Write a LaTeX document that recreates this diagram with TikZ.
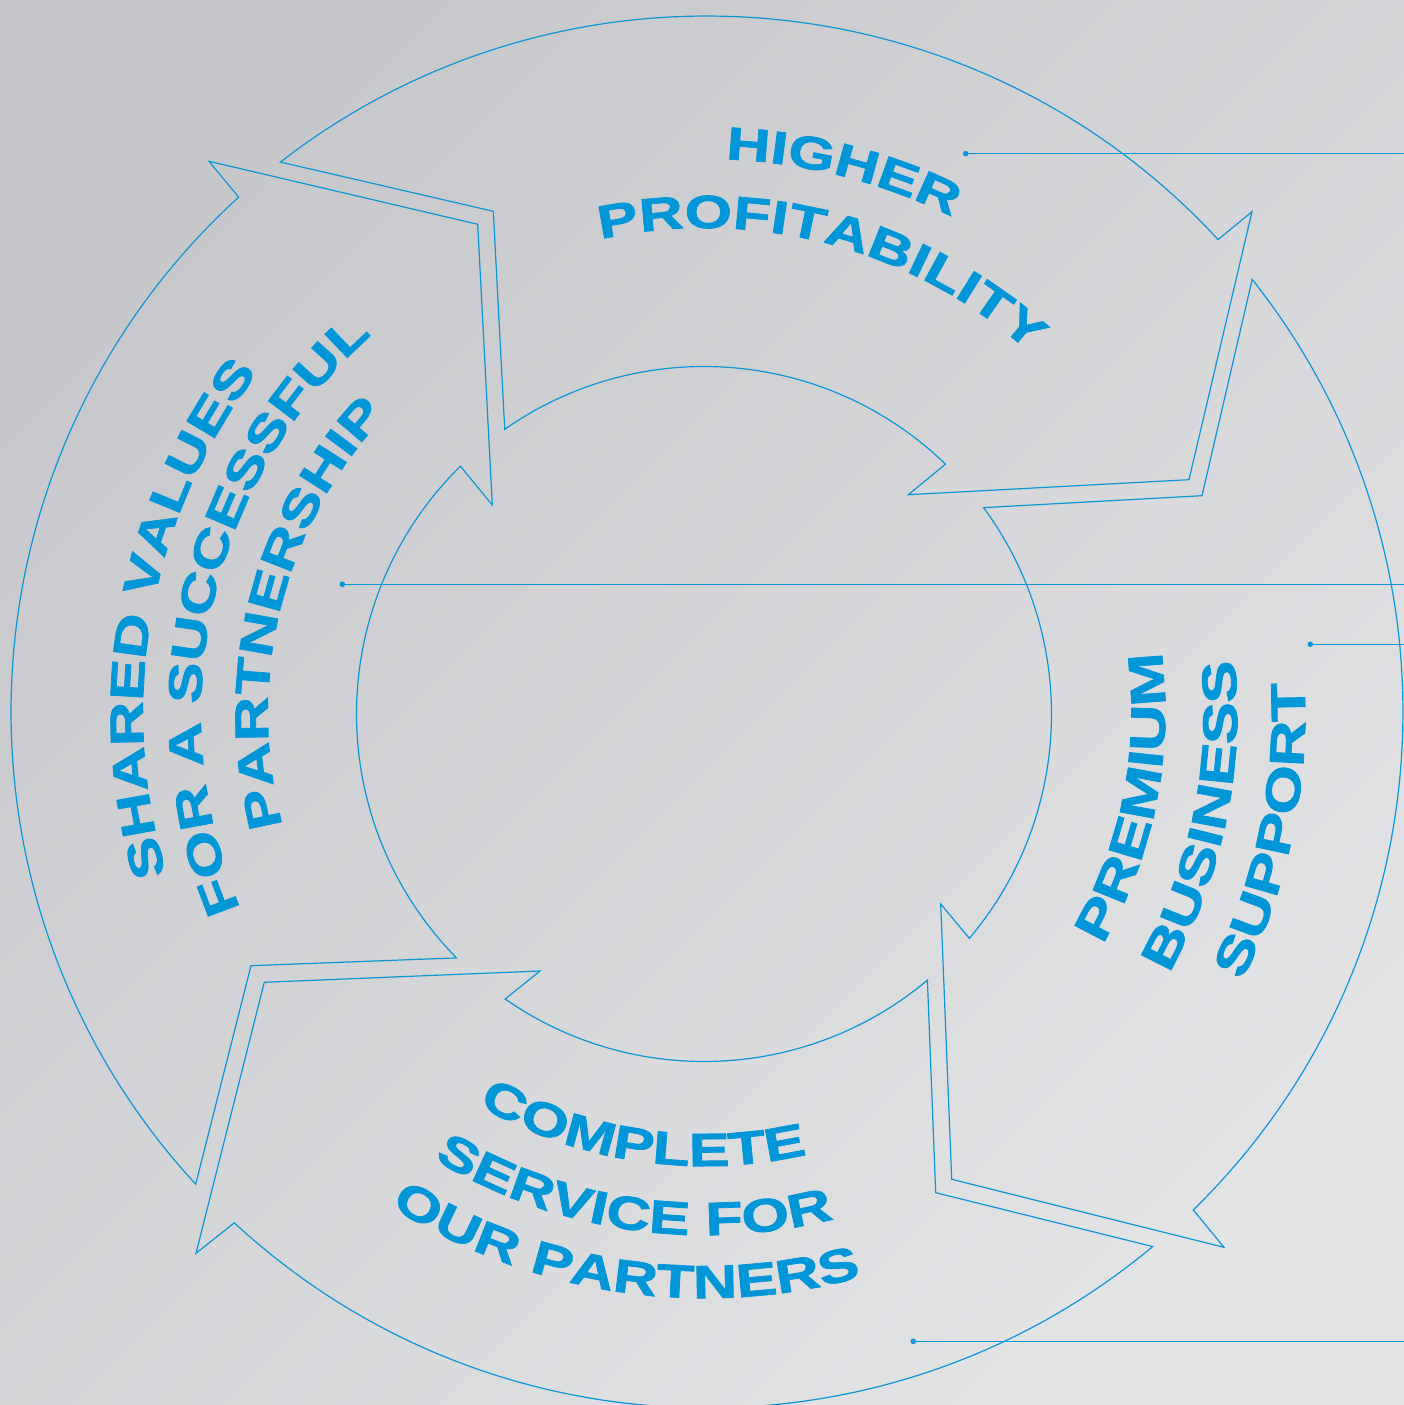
\documentclass[tikz,border=0pt]{standalone}
\usepackage{fontspec}
\newfontfamily\widefont[FakeStretch=1.31,FakeBold=1.6]{Liberation Sans Bold}
\usetikzlibrary{decorations.text}
\definecolor{lineblue}{HTML}{0A96D8}
\definecolor{textblue}{HTML}{0096D8}
\definecolor{bgUL}{HTML}{C7C8CB}
\definecolor{bgLR}{HTML}{E2E3E5}
\newcommand\ringfont[1]{\widefont\fontsize{#1}{#1}\selectfont\color{textblue}}
\begin{document}
\begin{tikzpicture}[x=0.5pt,y=0.5pt,
  ring/.style={draw=lineblue, line width=0.6pt, line join=miter},
  leader/.style={draw=lineblue, line width=0.6pt},
  dotnode/.style={circle, fill=lineblue, inner sep=0pt, minimum size=2.8pt},
  textarc/.style 2 args={decorate, decoration={text along path, text align=center, text={|\ringfont{#1}|#2}}}]
\shade[top color=bgUL, bottom color=bgLR, shading angle=45] (0,0) rectangle (1404,1405);
\useasboundingbox (0,0) rectangle (1404,1405);

% top arrow
\path[ring] ([shift={(707,693)}]127.8:696) arc[start angle=127.8,end angle=42.75,radius=696]
  -- (1252,1193.3) -- (1189,925.3) -- (908.3,910.3)
  -- ([shift={(704,691)}]45.97:347.5) arc[start angle=45.97,end angle=124.99,radius=347.5]
  -- (493.3,1193.7) -- cycle;
% right arrow
\path[ring] ([shift={(707,693)}]38.43:696) arc[start angle=38.43,end angle=-45.68,radius=696]
  -- (1224,157.7) -- (951.7,225.7) -- (940.7,501)
  -- ([shift={(704,691)}]-40.21:347.5) arc[start angle=-40.21,end angle=36.43,radius=347.5]
  -- (1202,909.3) -- cycle;
% bottom arrow
\path[ring] ([shift={(707,693)}]-50.18:696) arc[start angle=-50.18,end angle=-132.78,radius=696]
  -- (196,151.7) -- (264.3,422.7) -- (540,434)
  -- ([shift={(704,691)}]-124.9:347.5) arc[start angle=-124.9,end angle=-49.99,radius=347.5]
  -- (935.7,212.3) -- cycle;
% left arrow
\path[ring] ([shift={(707,693)}]222.72:696) arc[start angle=222.72,end angle=132.29,radius=696]
  -- (209,1243.7) -- (477.7,1180.7) -- (492.3,900)
  -- ([shift={(704,691)}]134.5:347.5) arc[start angle=134.5,end angle=224.58,radius=347.5]
  -- (251,439.3) -- cycle;

% texts
\path[textarc={23.1}{HIGHER}] ([shift={(705,692)}]135.7:554) arc[start angle=135.7,end angle=15.7,radius=554];
\path[textarc={23.3}{PROFITABILITY}] ([shift={(705,692)}]135.2:485) arc[start angle=135.2,end angle=15.2,radius=485];

\path[textarc={23.6}{SHARED VALUES}] ([shift={(705,692)}]229.7:562) arc[start angle=229.7,end angle=109.7,radius=562];
\path[textarc={23.6}{FOR A SUCCESSFUL}] ([shift={(705,692)}]227.1:504) arc[start angle=227.1,end angle=107.1,radius=504];
\path[textarc={23.6}{PARTNERSHIP}] ([shift={(705,692)}]225.9:437) arc[start angle=225.9,end angle=105.9,radius=437];

\path[textarc={24.6}{PREMIUM}] ([shift={(705,692)}]-71.3:460) arc[start angle=-71.3,end angle=48.7,radius=460];
\path[textarc={24.3}{BUSINESS}] ([shift={(705,692)}]-71.8:532) arc[start angle=-71.8,end angle=48.2,radius=532];
\path[textarc={24.3}{SUPPORT}] ([shift={(705,692)}]-71.8:600) arc[start angle=-71.8,end angle=48.2,radius=600];

\path[textarc={23.4}{COMPLETE}] ([shift={(705,692)}]-158.5:453) arc[start angle=-158.5,end angle=-38.5,radius=453];
\path[textarc={23.4}{SERVICE FOR}] ([shift={(705,692)}]-158.5:522) arc[start angle=-158.5,end angle=-38.5,radius=522];
\path[textarc={23.4}{OUR PARTNERS}] ([shift={(705,692)}]-158.5:585) arc[start angle=-158.5,end angle=-38.5,radius=585];

% leader lines
\node[dotnode] (d1) at (965.7,1251.3) {};
\node[dotnode] (d2) at (342.3,820.7) {};
\node[dotnode] (d3) at (1310.3,760.7) {};
\node[dotnode] (d4) at (913.3,63.7) {};
\coordinate (e1) at (1404,1251.3);
\coordinate (e2) at (1404,820.7);
\coordinate (e3) at (1404,760.7);
\coordinate (e4) at (1404,63.7);
\path[leader] (d1.center) -- (e1);
\path[leader] (d2.center) -- (e2);
\path[leader] (d3.center) -- (e3);
\path[leader] (d4.center) -- (e4);
\end{tikzpicture}
\end{document}
